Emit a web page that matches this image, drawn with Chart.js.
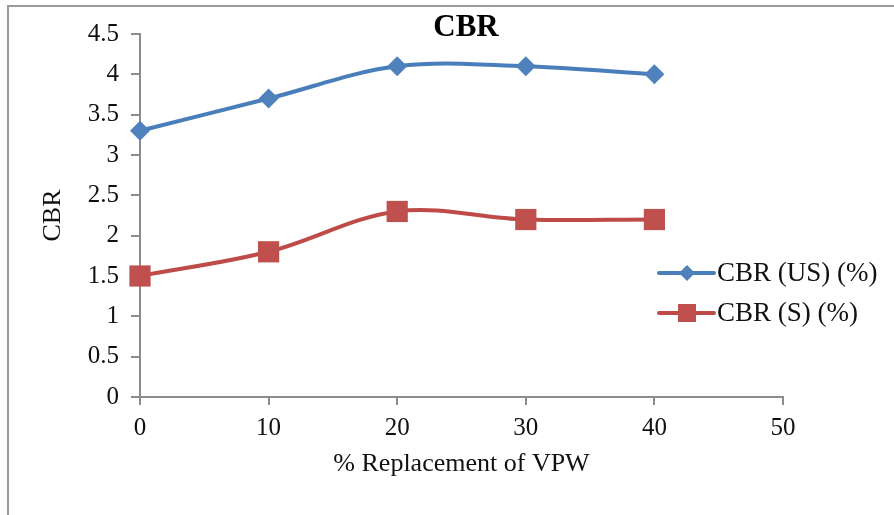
<!DOCTYPE html>
<html>
<head>
<meta charset="utf-8">
<script src="https://cdn.jsdelivr.net/npm/chart.js@4/dist/chart.umd.min.js"></script>
<style>
  html, body { margin: 0; padding: 0; background: #fff; }
  #wrap { position: relative; width: 894px; height: 515px; }
  #frame { position: absolute; left: 7px; top: 5px; right: 0; bottom: 0;
           border-top: 2px solid #9a9a9a; border-left: 2px solid #9a9a9a; }
  canvas { position: absolute; left: 0; top: 0; }
</style>
</head>
<body>
<div id="wrap">
  <div id="frame"></div>
  <canvas id="grafico" width="894" height="515"></canvas>
</div>
<script>
// % substituição de VPW
const substituicao = [0, 10, 20, 30, 40]
const cbrUS = [3.3, 3.7, 4.1, 4.1, 4.0]
const cbrS = [1.5, 1.8, 2.3, 2.2, 2.2]
const rotulosSeries = ['CBR (US) (%)', 'CBR (S) (%)']
const tituloGrafico = 'CBR'
const tituloX = '% Replacement of VPW'
const tituloY = 'CBR'

const azul = '#4a7ebb'
const azulMarcador = '#4f81bd'
const vermelho = '#be4b48'
const vermelhoMarcador = '#c0504d'
const cinza = '#8c8c8c'
const fonte = "'Liberation Serif', 'Times New Roman', serif"

function pontos(ys) {
  return substituicao.map((x, i) => ({ x: x, y: ys[i] }))
}

// titulo e legenda desenhados no canvas
const extras = {
  id: 'extras',
  afterDraw(chart) {
    const ctx = chart.ctx
    ctx.save()
    ctx.fillStyle = '#000'
    ctx.textBaseline = 'middle'
    ctx.textAlign = 'center'
    ctx.font = 'bold 31px ' + fonte
    ctx.fillText(tituloGrafico, 466, 28)

    const itens = [
      { texto: rotulosSeries[0], cor: azul, marcador: azulMarcador, tipo: 'losango', y: 273 },
      { texto: rotulosSeries[1], cor: vermelho, marcador: vermelhoMarcador, tipo: 'quadrado', y: 313 }
    ]
    ctx.textAlign = 'left'
    ctx.font = '27px ' + fonte
    itens.forEach(it => {
      ctx.strokeStyle = it.cor
      ctx.lineWidth = 4
      ctx.lineCap = 'round'
      ctx.beginPath()
      ctx.moveTo(659, it.y)
      ctx.lineTo(714, it.y)
      ctx.stroke()
      ctx.fillStyle = it.marcador
      ctx.beginPath()
      if (it.tipo === 'losango') {
        ctx.moveTo(687, it.y - 8)
        ctx.lineTo(695, it.y)
        ctx.lineTo(687, it.y + 8)
        ctx.lineTo(679, it.y)
      } else {
        ctx.rect(678, it.y - 9, 18, 18)
      }
      ctx.closePath()
      ctx.fill()
      ctx.fillStyle = '#111'
      ctx.fillText(it.texto, 717, it.y + 1)
    })
    ctx.restore()
  }
}

new Chart(document.getElementById('grafico'), {
  type: 'line',
  data: {
    datasets: [
      {
        label: rotulosSeries[0],
        data: pontos(cbrUS),
        borderColor: azul,
        backgroundColor: azulMarcador,
        borderWidth: 4,
        tension: 0.35,
        pointStyle: 'rectRot',
        pointRadius: 10,
        pointBorderWidth: 0,
        clip: false
      },
      {
        label: rotulosSeries[1],
        data: pontos(cbrS),
        borderColor: vermelho,
        backgroundColor: vermelhoMarcador,
        borderWidth: 4,
        tension: 0.35,
        pointStyle: 'rect',
        pointRadius: 15,
        pointBorderWidth: 0,
        clip: false
      }
    ]
  },
  options: {
    responsive: false,
    animation: false,
    events: [],
    layout: { padding: { left: 38, top: 34, right: 111, bottom: 0 } },
    plugins: {
      legend: { display: false },
      title: { display: false },
      tooltip: { enabled: false }
    },
    scales: {
      x: {
        type: 'linear',
        min: 0,
        max: 50,
        afterFit(scale) { scale.height = 118 },
        ticks: {
          stepSize: 10,
          padding: 8,
          color: '#111',
          font: { family: fonte, size: 25 }
        },
        grid: { drawOnChartArea: false, drawTicks: true, tickLength: 8, color: cinza, lineWidth: 2 },
        border: { display: true, color: cinza, width: 2 },
        title: {
          display: true,
          text: tituloX,
          color: '#111',
          font: { family: fonte, size: 26 },
          padding: { top: 0, bottom: 35 }
        }
      },
      y: {
        min: 0,
        max: 4.5,
        afterFit(scale) { scale.width = 102 },
        ticks: {
          stepSize: 0.5,
          padding: 12,
          color: '#111',
          font: { family: fonte, size: 25 },
          callback: v => String(v)
        },
        grid: { drawOnChartArea: false, drawTicks: true, tickLength: 9, color: cinza, lineWidth: 2 },
        border: { display: true, color: cinza, width: 2 },
        title: {
          display: true,
          text: tituloY,
          color: '#111',
          font: { family: fonte, size: 26 },
          padding: 0
        }
      }
    }
  },
  plugins: [extras]
})
</script>
</body>
</html>
